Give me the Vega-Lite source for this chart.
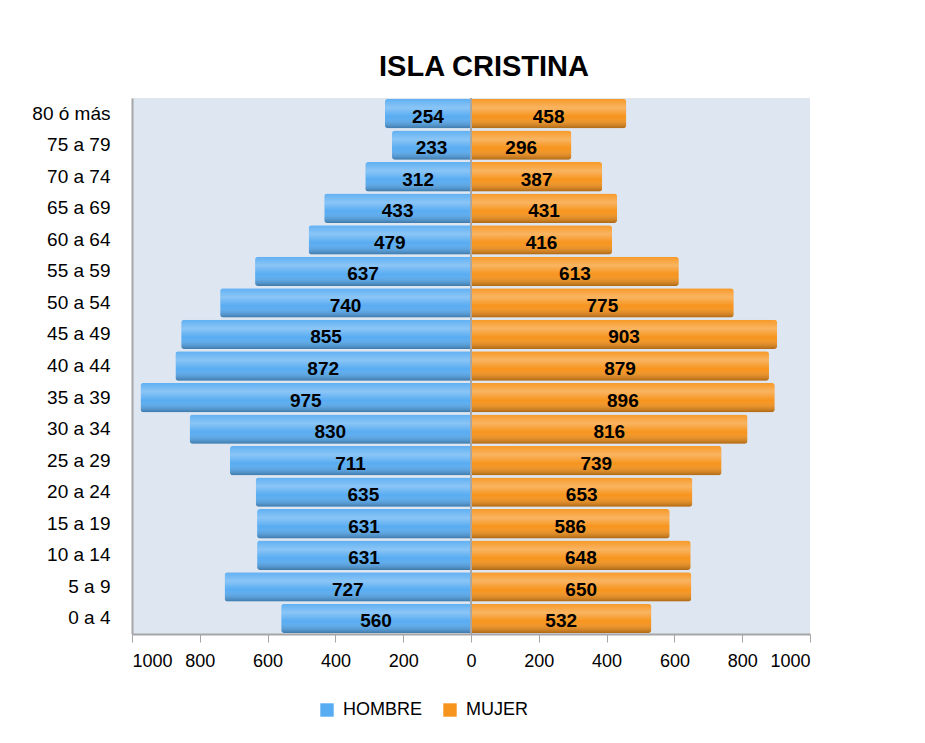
{
  "$schema": "https://vega.github.io/schema/vega-lite/v6.json",
  "width": 678,
  "height": 536,
  "autosize": "none",
  "padding": {"left": 132, "top": 98, "right": 115, "bottom": 109},
  "background": "white",
  "title": {"text": "ISLA CRISTINA", "font": "Liberation Sans", "fontSize": 29, "fontWeight": "bold", "color": "black", "anchor": "middle", "dx": 13, "offset": 16},
  "config": {"view": {"fill": "#dde6f1", "stroke": null}, "font": "Liberation Sans"},
  "data": {"values": [
    {"edad": "80 ó más", "sexo": "HOMBRE", "poblacion": 254}, {"edad": "80 ó más", "sexo": "MUJER", "poblacion": 458},
    {"edad": "75 a 79", "sexo": "HOMBRE", "poblacion": 233}, {"edad": "75 a 79", "sexo": "MUJER", "poblacion": 296},
    {"edad": "70 a 74", "sexo": "HOMBRE", "poblacion": 312}, {"edad": "70 a 74", "sexo": "MUJER", "poblacion": 387},
    {"edad": "65 a 69", "sexo": "HOMBRE", "poblacion": 433}, {"edad": "65 a 69", "sexo": "MUJER", "poblacion": 431},
    {"edad": "60 a 64", "sexo": "HOMBRE", "poblacion": 479}, {"edad": "60 a 64", "sexo": "MUJER", "poblacion": 416},
    {"edad": "55 a 59", "sexo": "HOMBRE", "poblacion": 637}, {"edad": "55 a 59", "sexo": "MUJER", "poblacion": 613},
    {"edad": "50 a 54", "sexo": "HOMBRE", "poblacion": 740}, {"edad": "50 a 54", "sexo": "MUJER", "poblacion": 775},
    {"edad": "45 a 49", "sexo": "HOMBRE", "poblacion": 855}, {"edad": "45 a 49", "sexo": "MUJER", "poblacion": 903},
    {"edad": "40 a 44", "sexo": "HOMBRE", "poblacion": 872}, {"edad": "40 a 44", "sexo": "MUJER", "poblacion": 879},
    {"edad": "35 a 39", "sexo": "HOMBRE", "poblacion": 975}, {"edad": "35 a 39", "sexo": "MUJER", "poblacion": 896},
    {"edad": "30 a 34", "sexo": "HOMBRE", "poblacion": 830}, {"edad": "30 a 34", "sexo": "MUJER", "poblacion": 816},
    {"edad": "25 a 29", "sexo": "HOMBRE", "poblacion": 711}, {"edad": "25 a 29", "sexo": "MUJER", "poblacion": 739},
    {"edad": "20 a 24", "sexo": "HOMBRE", "poblacion": 635}, {"edad": "20 a 24", "sexo": "MUJER", "poblacion": 653},
    {"edad": "15 a 19", "sexo": "HOMBRE", "poblacion": 631}, {"edad": "15 a 19", "sexo": "MUJER", "poblacion": 586},
    {"edad": "10 a 14", "sexo": "HOMBRE", "poblacion": 631}, {"edad": "10 a 14", "sexo": "MUJER", "poblacion": 648},
    {"edad": "5 a 9", "sexo": "HOMBRE", "poblacion": 727}, {"edad": "5 a 9", "sexo": "MUJER", "poblacion": 650},
    {"edad": "0 a 4", "sexo": "HOMBRE", "poblacion": 560}, {"edad": "0 a 4", "sexo": "MUJER", "poblacion": 532}
  ]},
  "transform": [
    {"calculate": "datum.sexo == 'HOMBRE' ? -datum.poblacion : datum.poblacion", "as": "valor"},
    {"calculate": "datum.valor / 2", "as": "medio"}
  ],
  "encoding": {
    "y": {
      "field": "edad", "type": "nominal",
      "sort": ["80 ó más", "75 a 79", "70 a 74", "65 a 69", "60 a 64", "55 a 59", "50 a 54", "45 a 49", "40 a 44", "35 a 39", "30 a 34", "25 a 29", "20 a 24", "15 a 19", "10 a 14", "5 a 9", "0 a 4"],
      "scale": {"paddingInner": 0.07, "paddingOuter": 0.03},
      "axis": {"title": null, "ticks": false, "domain": true, "domainColor": "#a6a6a6", "domainWidth": 2, "labelFontSize": 19, "labelPadding": 22, "labelColor": "black"}
    }
  },
  "layer": [
    {
      "mark": {"type": "bar", "cornerRadius": 3},
      "encoding": {
        "x": {
          "field": "valor", "type": "quantitative",
          "scale": {"domain": [-1000, 1000]},
          "axis": {"title": null, "values": [-1000, -800, -600, -400, -200, 0, 200, 400, 600, 800, 1000], "labelExpr": "abs(datum.value)", "grid": false, "tickColor": "#a6a6a6", "tickSize": 8, "domainColor": "#a6a6a6", "domainWidth": 2, "labelFontSize": 18, "labelPadding": 10, "labelColor": "black"}
        },
        "color": {
          "field": "sexo", "type": "nominal",
          "scale": {"domain": ["HOMBRE", "MUJER"], "range": ["#58acf2", "#f7941d"]},
          "legend": {"title": null, "orient": "none", "legendX": 186, "legendY": 603, "direction": "horizontal", "symbolType": "square", "symbolSize": 180, "symbolStrokeWidth": 0, "labelFontSize": 18, "labelColor": "black", "columnPadding": 18, "labelOffset": 7}
        }
      }
    },
    {
      "mark": {"type": "bar", "cornerRadius": 3, "fill": {"gradient": "linear", "x1": 0, "y1": 0, "x2": 0, "y2": 1, "stops": [
        {"offset": 0, "color": "rgba(255,255,255,0.05)"},
        {"offset": 0.3, "color": "rgba(255,255,255,0.3)"},
        {"offset": 0.6, "color": "rgba(255,255,255,0)"},
        {"offset": 1, "color": "rgba(0,0,0,0.3)"}
      ]}},
      "encoding": {"x": {"field": "valor", "type": "quantitative"}}
    },
    {
      "mark": {"type": "rule", "color": "#a6a6a6", "strokeWidth": 1},
      "encoding": {"x": {"datum": 0}, "y": {"value": 0}, "y2": {"value": 536}}
    },
    {
      "mark": {"type": "text", "fontWeight": "bold", "fontSize": 19, "baseline": "middle", "dy": 3, "color": "black"},
      "encoding": {
        "x": {"field": "medio", "type": "quantitative"},
        "text": {"field": "poblacion", "type": "quantitative"}
      }
    }
  ]
}
